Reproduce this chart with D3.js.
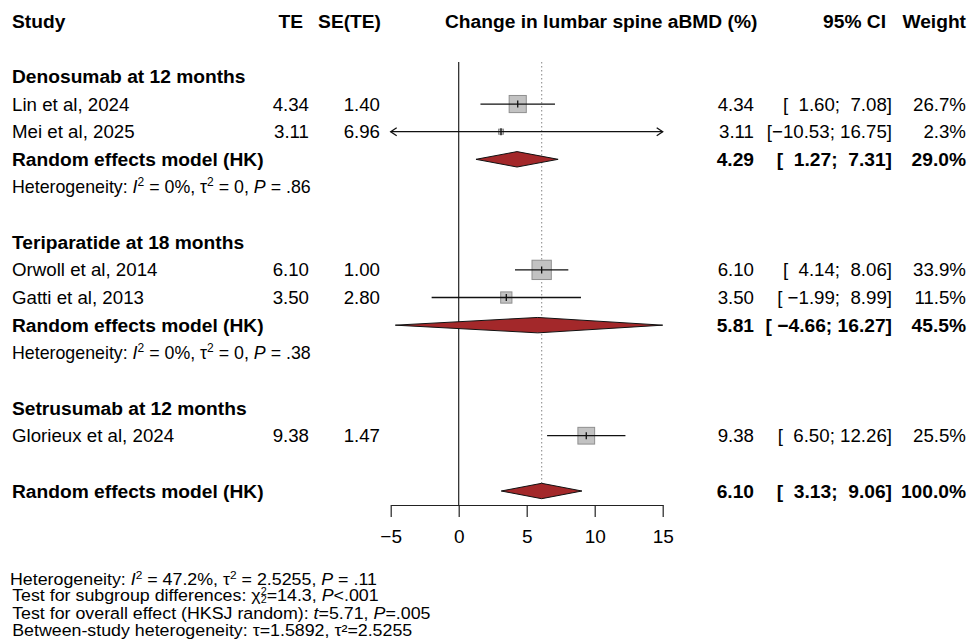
<!DOCTYPE html>
<html>
<head>
<meta charset="utf-8">
<script src="https://cdn.jsdelivr.net/npm/d3@7"></script>
<style>
    body { margin: 0; background: #fff; }
    svg text { font-family: "Liberation Sans", Arial, Helvetica, sans-serif; white-space: pre; fill: #000; }
</style>
</head>
<body>
<div id="forest"></div>
<script>

// study level data
let groupNames = ["Denosumab at 12 months", "Teriparatide at 18 months", "Setrusumab at 12 months"];
let studyNames = ["Lin et al, 2024", "Mei et al, 2025", "Orwoll et al, 2014", "Gatti et al, 2013", "Glorieux et al, 2024"];
let studyGroup = [0, 0, 1, 1, 2];
let studyTE = [4.34, 3.11, 6.10, 3.50, 9.38];
let studySE = [1.40, 6.96, 1.00, 2.80, 1.47];
let studyLower = [1.60, -10.53, 4.14, -1.99, 6.50];
let studyUpper = [7.08, 16.75, 8.06, 8.99, 12.26];
let studyWeight = [26.7, 2.3, 33.9, 11.5, 25.5];

// pooled (random effects, HK) per group with more than one study
let pooledTE = [4.29, 5.81];
let pooledLower = [1.27, -4.66];
let pooledUpper = [7.31, 16.27];
let pooledWeight = [29.0, 45.5];
let hetI2 = ["0%", "0%"];
let hetTau2 = ["0", "0"];
let hetP = [".86", ".38"];

// overall
let overallTE = 6.10;
let overallLower = 3.13;
let overallUpper = 9.06;
let overallWeight = 100.0;

let xTicks = [-5, 0, 5, 10, 15];


class ForestVis {

    constructor(_parentElement) {
        this.parentElement = _parentElement;
        this.initVis();
    }

    initVis() {
        let vis = this;

        vis.width = 969;
        vis.height = 639;

        vis.svg = d3.select("#" + vis.parentElement).append("svg")
            .attr("width", vis.width)
            .attr("height", vis.height);

        vis.x = d3.scaleLinear()
            .domain([-5, 15])
            .range([390.7, 662.7]);

        // one row every ~27.6px
        vis.y = d3.scaleLinear()
            .domain([0, 15])
            .range([76.4, 491]);

        vis.boxSize = d3.scaleSqrt()
            .domain([0, d3.max(studyWeight)])
            .range([0, 19.3]);

        vis.fmt = d3.format(".2f");

        vis.wrangleData();
    }

    wrangleData() {
        let vis = this;

        // CI strings padded like R does, then minus -> en dash
        let allLow = studyLower.concat(pooledLower, [overallLower]).map(vis.fmt);
        let allUp = studyUpper.concat(pooledUpper, [overallUpper]).map(vis.fmt);
        let wl = d3.max(allLow, s => s.length);
        let wu = d3.max(allUp, s => s.length);
        vis.ci = (lo, up) => ("[" + vis.fmt(lo).padStart(wl) + "; " + vis.fmt(up).padStart(wu) + "]").replace(/-/g, "\u2013");

        vis.rows = [];
        let r = 0;
        groupNames.forEach((g, gi) => {
            vis.rows.push({type: "group", row: r++, label: g});
            let idx = d3.range(studyNames.length).filter(i => studyGroup[i] === gi);
            idx.forEach(i => {
                vis.rows.push({type: "study", row: r++, label: studyNames[i], te: studyTE[i], se: studySE[i],
                    lo: studyLower[i], up: studyUpper[i], w: studyWeight[i]});
            });
            if (idx.length > 1) {
                vis.rows.push({type: "pooled", row: r++, label: "Random effects model (HK)", te: pooledTE[gi],
                    lo: pooledLower[gi], up: pooledUpper[gi], w: pooledWeight[gi]});
                vis.rows.push({type: "het", row: r++, i2: hetI2[gi], tau2: hetTau2[gi], p: hetP[gi]});
            }
            r++; // blank line
        });
        vis.rows.push({type: "pooled", row: r, label: "Random effects model (HK)", te: overallTE,
            lo: overallLower, up: overallUpper, w: overallWeight});

        vis.updateVis();
    }

    updateVis() {
        let vis = this;
        let x0 = vis.x.domain()[0], x1 = vis.x.domain()[1];
        let clamp = v => Math.max(x0, Math.min(x1, v));
        let boldSize = "19.2px", regSize = "18.7px";

        // header
        let head = vis.svg.append("g").attr("class", "header")
            .style("font-weight", "bold").style("font-size", boldSize);
        head.append("text").attr("x", 12).attr("y", 21).attr("dy", "0.35em").text("Study");
        head.append("text").attr("x", 303).attr("y", 21).attr("dy", "0.35em").attr("text-anchor", "end").text("TE");
        head.append("text").attr("x", 381).attr("y", 21).attr("dy", "0.35em").attr("text-anchor", "end").text("SE(TE)");
        head.append("text").attr("x", 445).attr("y", 21).attr("dy", "0.35em").text("Change in lumbar spine aBMD (%)");
        head.append("text").attr("x", 886).attr("y", 21).attr("dy", "0.35em").attr("text-anchor", "end").text("95% CI");
        head.append("text").attr("x", 966).attr("y", 21).attr("dy", "0.35em").attr("text-anchor", "end").text("Weight");

        // reference lines
        let yTop = 62, yAxis = 505;
        vis.svg.append("line")
            .attr("x1", vis.x(overallTE)).attr("x2", vis.x(overallTE))
            .attr("y1", yTop).attr("y2", vis.y(15) - 6)
            .attr("stroke", "#999").attr("stroke-width", 1.2).attr("stroke-dasharray", "1.5,2.5");
        vis.svg.append("line")
            .attr("x1", vis.x(0)).attr("x2", vis.x(0))
            .attr("y1", yTop).attr("y2", yAxis)
            .attr("stroke", "#222").attr("stroke-width", 1.2);

        // axis
        vis.xAxis = d3.axisBottom(vis.x)
            .tickValues(xTicks)
            .tickSize(12)
            .tickSizeOuter(0)
            .tickPadding(13);
        let ax = vis.svg.append("g")
            .attr("class", "axis x-axis")
            .attr("transform", "translate(0," + yAxis + ")")
            .call(vis.xAxis);
        ax.selectAll("path, line").attr("stroke", "#222").attr("stroke-width", 1.2);
        ax.selectAll("text")
            .style("font-family", "'Liberation Sans', Arial, sans-serif")
            .style("font-size", "19px").attr("fill", "#000");

        // rows
        vis.rows.forEach(d => {
            let yy = vis.y(d.row);
            if (d.type === "group") {
                vis.svg.append("text").attr("x", 12).attr("y", yy).attr("dy", "0.35em")
                    .style("font-weight", "bold").style("font-size", boldSize).text(d.label);
            } else if (d.type === "het") {
                let t = vis.svg.append("text").attr("x", 12).attr("y", yy).attr("dy", "0.35em").style("font-size", "17.8px");
                t.append("tspan").text("Heterogeneity: ");
                t.append("tspan").style("font-style", "italic").text("I");
                t.append("tspan").attr("dy", -7).style("font-size", "12px").text("2");
                t.append("tspan").attr("dy", 7).text(" = " + d.i2 + ", \u03c4");
                t.append("tspan").attr("dy", -7).style("font-size", "12px").text("2");
                t.append("tspan").attr("dy", 7).text(" = " + d.tau2 + ", ");
                t.append("tspan").style("font-style", "italic").text("P");
                t.append("tspan").text(" = " + d.p);
            } else {
                let bold = d.type === "pooled";
                let g = vis.svg.append("g")
                    .style("font-size", bold ? boldSize : regSize)
                    .style("font-weight", bold ? "bold" : "normal");
                g.append("text").attr("x", 12).attr("y", yy).attr("dy", "0.35em").text(d.label);
                if (!bold) {
                    g.append("text").attr("x", 309).attr("y", yy).attr("dy", "0.35em").attr("text-anchor", "end").text(vis.fmt(d.te));
                    g.append("text").attr("x", 380).attr("y", yy).attr("dy", "0.35em").attr("text-anchor", "end").text(vis.fmt(d.se));
                }
                g.append("text").attr("x", 754).attr("y", yy).attr("dy", "0.35em").attr("text-anchor", "end").text(vis.fmt(d.te));
                g.append("text").attr("x", 892).attr("y", yy).attr("dy", "0.35em").attr("text-anchor", "end").text(vis.ci(d.lo, d.up));
                g.append("text").attr("x", 966).attr("y", yy).attr("dy", "0.35em").attr("text-anchor", "end").text(d3.format(".1f")(d.w) + "%");

                if (bold) {
                    // diamond
                    let h = 7.7;
                    let pts = [[vis.x(clamp(d.lo)), yy], [vis.x(d.te), yy - h], [vis.x(clamp(d.up)), yy], [vis.x(d.te), yy + h]];
                    vis.svg.append("polygon")
                        .attr("points", pts.map(p => p.join(",")).join(" "))
                        .attr("fill", "#a3282a").attr("stroke", "#111").attr("stroke-width", 1);
                } else {
                    let s = vis.boxSize(d.w);
                    vis.svg.append("rect")
                        .attr("x", vis.x(d.te) - s / 2).attr("y", yy - s / 2)
                        .attr("width", s).attr("height", s)
                        .attr("fill", "#c2c2c2").attr("stroke", "#8f8f8f").attr("stroke-width", 1);
                    let xl = vis.x(clamp(d.lo)), xr = vis.x(clamp(d.up));
                    vis.svg.append("line").attr("x1", xl).attr("x2", xr).attr("y1", yy).attr("y2", yy)
                        .attr("stroke", "#111").attr("stroke-width", 1.3);
                    vis.svg.append("line").attr("x1", vis.x(d.te)).attr("x2", vis.x(d.te)).attr("y1", yy - 3.5).attr("y2", yy + 3.5)
                        .attr("stroke", "#111").attr("stroke-width", 1.3);
                    if (d.lo < x0) {
                        vis.svg.append("path").attr("d", `M${xl + 6},${yy - 4}L${xl},${yy}L${xl + 6},${yy + 4}`)
                            .attr("fill", "none").attr("stroke", "#111").attr("stroke-width", 1.3);
                    }
                    if (d.up > x1) {
                        vis.svg.append("path").attr("d", `M${xr - 6},${yy - 4}L${xr},${yy}L${xr - 6},${yy + 4}`)
                            .attr("fill", "none").attr("stroke", "#111").attr("stroke-width", 1.3);
                    }
                }
            }
        });

        vis.drawFooter();
    }

    drawFooter() {
        let vis = this;
        let foot = vis.svg.append("g")
            .attr("transform", "translate(10,0) scale(1.08,1)")
            .style("font-size", "16.5px");

        let l1 = foot.append("text").attr("x", 0).attr("y", 585);
        l1.append("tspan").text("Heterogeneity: ");
        l1.append("tspan").style("font-style", "italic").text("I");
        l1.append("tspan").attr("dy", -6).style("font-size", "11px").text("2");
        l1.append("tspan").attr("dy", 6).text(" = 47.2%, \u03c4");
        l1.append("tspan").attr("dy", -6).style("font-size", "11px").text("2");
        l1.append("tspan").attr("dy", 6).text(" = 2.5255, ");
        l1.append("tspan").style("font-style", "italic").text("P");
        l1.append("tspan").text(" = .11");

        let l2 = foot.append("text").attr("x", 2).attr("y", 601.5);
        l2.append("tspan").text("Test for subgroup differences: \u03c7");
        l2.append("tspan").attr("dy", -6).style("font-size", "10px").text("2");
        l2.append("tspan").attr("dx", -5.5).attr("dy", 8).style("font-size", "10px").text("2");
        l2.append("tspan").attr("dy", -2).text("=14.3, ");
        l2.append("tspan").style("font-style", "italic").text("P");
        l2.append("tspan").text("<.001");

        let l3 = foot.append("text").attr("x", 2).attr("y", 619);
        l3.append("tspan").text("Test for overall effect (HKSJ random): ");
        l3.append("tspan").style("font-style", "italic").text("t");
        l3.append("tspan").text("=5.71, ");
        l3.append("tspan").style("font-style", "italic").text("P");
        l3.append("tspan").text("=.005");

        foot.append("text").attr("x", 2).attr("y", 636)
            .text("Between-study heterogeneity: \u03c4=1.5892, \u03c4\u00b2=2.5255");
    }
}

new ForestVis("forest");

</script>
</body>
</html>
